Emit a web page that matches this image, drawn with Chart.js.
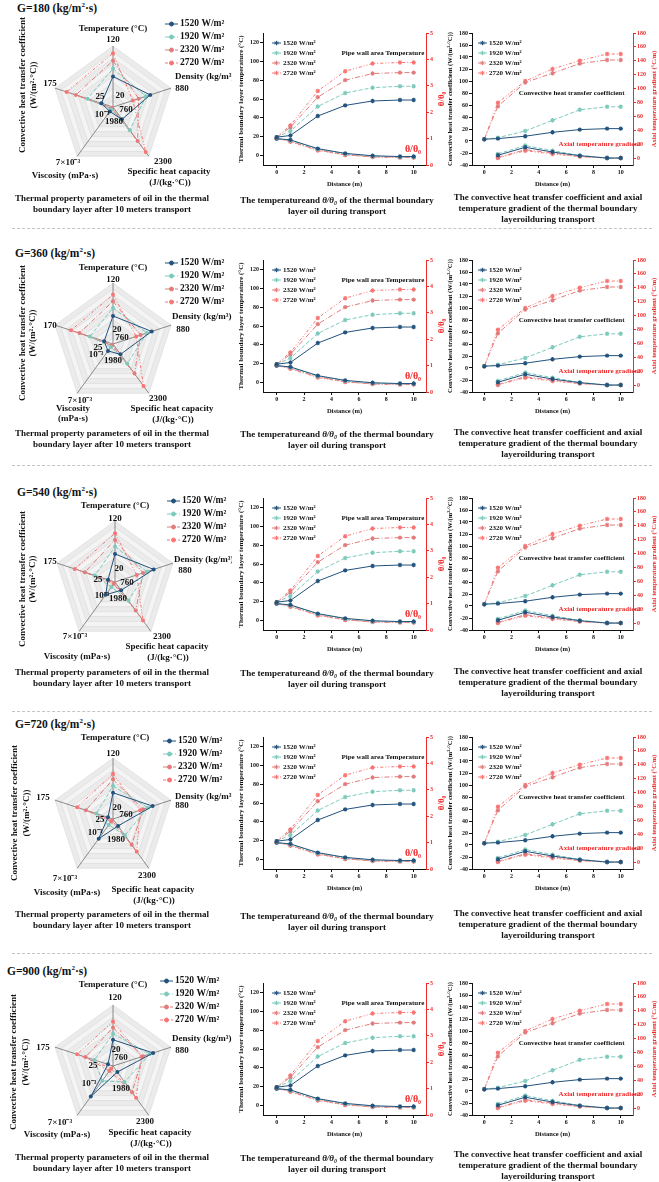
<!DOCTYPE html>
<html>
<head>
<meta charset="utf-8">
<title>Thermal boundary layer oil</title>
<script src="https://cdn.jsdelivr.net/npm/chart.js@4.4.1/dist/chart.umd.min.js"></script>
<style>
  body { margin: 0; background: #fff; }
  #page { position: relative; width: 659px; height: 1182px; overflow: hidden;
          font-family: "Liberation Serif", "Times New Roman", serif; font-weight: bold; color: #111; }
  canvas { position: absolute; }
  .title { position: absolute; font-size: 11.5px; line-height: 12px; white-space: nowrap; }
  .title sup { font-size: 7px; line-height: 0; }
  .cap { position: absolute; font-size: 9px; line-height: 11px; text-align: center; white-space: nowrap; transform: translateX(-50%); }
  .sep { position: absolute; left: 12px; width: 640px; height: 0; border-top: 1px dashed #c4c4c4; }
</style>
</head>
<body>
<div id="page"></div>
<script>
// ---------- data ----------
var heatFlux = ['1520 W/m²', '1920 W/m²', '2320 W/m²', '2720 W/m²'];
var massFlux = [180, 360, 540, 720, 900];

// radar axes (clockwise from top)
var radarAxes = ['Temperature', 'Density', 'Specific heat capacity', 'Viscosity', 'Convective heat transfer coefficient'];
var radarMin = [20, 760, 1980, 0.001, 25];
var radarMax = [120, 880, 2300, 0.007, 175];
var convMax = [175, 170, 175, 175, 175];

// one row per heat flux: temperature, density, specific heat, viscosity, convective coeff.
var radar180 = [[70, 837, 2060, 1.54e-3, 55], [83, 828, 2130, 1.30e-3, 91], [96, 813, 2200, 1.18e-3, 121], [108, 801, 2272, 1.12e-3, 145]];
var radar360 = [[66, 840, 2047, 1.84e-3, 47], [79, 830, 2108, 1.36e-3, 83], [90, 817, 2172, 1.18e-3, 109], [101, 808, 2252, 1.12e-3, 130]];
var radar540 = [[66, 840, 2034, 2.56e-3, 43], [78, 826, 2100, 1.60e-3, 77], [89, 818, 2165, 1.24e-3, 103], [100, 805, 2230, 1.12e-3, 129]];
var radar720 = [[63, 842, 2025, 3.40e-3, 38], [74, 832, 2086, 1.72e-3, 68], [85, 822, 2147, 1.30e-3, 95], [94, 816, 2191, 1.18e-3, 118]];
var radar900 = [[63, 843, 2019, 4.72e-3, 38], [73, 836, 2084, 2.80e-3, 73], [83, 822, 2150, 1.60e-3, 96], [93, 819, 2186, 1.30e-3, 118]];
var radarRows = [radar180, radar360, radar540, radar720, radar900];

var distance = [0, 1, 3, 5, 7, 9, 10];
var distanceGrad = [1, 3, 5, 7, 9, 10];

var wallTemp = [
  [19.5, 21.3, 41.9, 53.2, 57.9, 58.9, 58.9],
  [19.5, 26, 52, 66.4, 72, 73.5, 73.5],
  [19.5, 30, 62, 80, 87, 88, 88],
  [19.5, 32, 68.5, 89.5, 97.6, 98.7, 98.7]
];
var thetaRatio = [
  [1, 0.95, 0.62, 0.44, 0.35, 0.32, 0.32],
  [1, 0.93, 0.60, 0.42, 0.33, 0.31, 0.31],
  [1, 0.90, 0.57, 0.39, 0.31, 0.29, 0.29],
  [1, 0.88, 0.55, 0.38, 0.30, 0.28, 0.28]
];
var convCoef = [
  [3, 4, 8, 14.5, 19, 20.6, 20.6],
  [3, 5.5, 16.7, 34.5, 52, 57, 57],
  [3, 58, 97.5, 113, 129, 135, 135],
  [3, 64, 100, 120, 134, 145, 145]
];
var axialGrad = [
  [4, 15.5, 8.7, 3.4, 0, 0],
  [6, 18, 10.6, 3.9, 0, 0],
  [1, 12, 7.2, 2.4, 0, 0],
  [0, 10.6, 5.8, 2, 0, 0]
];

var distTicks = [0, 2, 4, 6, 8, 10];
var tempTicks = [0, 20, 40, 60, 80, 100, 120];
var thetaTicks = [0, 1, 2, 3, 4, 5];
var convTicks = [-40, -20, 0, 20, 40, 60, 80, 100, 120, 140, 160, 180];
var gradTicks = [0, 20, 40, 60, 80, 100, 120, 140, 160, 180];

// ---------- styles / layout ----------
var FONT = '"Liberation Serif", "Times New Roman", serif';
var INK = '#111';
var RED = '#ee2b2b';
var seriesColors = ['#23527c', '#7dcabd', '#e27c7c', '#fb7474'];
var seriesDash = [[], [4, 2], [5, 2, 1, 2], [3, 2, 1, 2, 1, 2]];

Chart.defaults.font.family = FONT;
Chart.defaults.font.weight = 'bold';
Chart.defaults.color = INK;

var rows = [
  { titleX: 17, titleY: 8, cx: 113, cy: 107, plotTop: 33, capR: 198, capM: 200, capC: 197, leg: [165, 24],
    temp: [0, -78], n120: [0, -67], dens: [62, -30], n880: [69, -18], n2300: [50, 55], spec: [56, 65],
    n7: [-45, 56], visc: [['Viscosity (mPa·s)', -48, 69]], nConv: [-63, -23], vert: [-90, -79, -22],
    mins: [[7, -11], [13, 3], [1, 15], [-11, 8], [-13, -10]] },
  { titleX: 15, titleY: 253, cx: 113, cy: 344, plotTop: 260, capR: 433, capM: 434, capC: 432, leg: [165, 263],
    temp: [0, -76], n120: [0, -64], dens: [59, -27], n880: [70, -14], n2300: [45, 55], spec: [59, 65],
    n7: [-33, 57], visc: [['Viscosity', -40, 65], ['(mPa·s)', -40, 75]], nConv: [-63, -18], vert: [-90, -80, -11],
    mins: [[4, -14], [9, -6], [0, 17], [-17, 11], [-15, 4]] },
  { titleX: 17, titleY: 492, cx: 115, cy: 582, plotTop: 498, capR: 672, capM: 673, capC: 671, leg: [167, 501],
    temp: [0, -76], n120: [0, -63], dens: [59, -22], n880: [70, -11], n2300: [47, 55], spec: [52, 65],
    n7: [-40, 55], visc: [['Viscosity (mPa·s)', -38, 75]], nConv: [-65, -20], vert: [-92, -82, -3],
    mins: [[4, -13], [12, 1], [3, 17], [-13, 14], [-17, -2]] },
  { titleX: 15, titleY: 724, cx: 113, cy: 819, plotTop: 737, capR: 914, capM: 916, capC: 913, leg: [163, 741],
    temp: [2, -81], n120: [0, -65], dens: [62, -22], n880: [69, -13], n2300: [34, 57], spec: [40, 71],
    n7: [-48, 60], visc: [['Viscosity (mPa·s)', -46, 74]], nConv: [-70, -21], vert: [-98, -86, -6],
    mins: [[4, -11], [13, -4], [3, 21], [-18, 14], [-13, 1]] },
  { titleX: 7, titleY: 971, cx: 113, cy: 1066, plotTop: 983, capR: 1157, capM: 1158, capC: 1154, leg: [160, 981],
    temp: [0, -81], n120: [2, -68], dens: [59, -27], n880: [69, -15], n2300: [32, 56], spec: [37, 67],
    n7: [-53, 57], visc: [['Viscosity (mPa·s)', -56, 69]], nConv: [-70, -18], vert: [-99, -87, -4],
    mins: [[3, -16], [8, -8], [8, 23], [-24, 18], [-20, 0]] }
];
var separators = [228, 465, 711, 953];

var page = document.getElementById('page');

function addCanvas(left, top, w, h) {
  var c = document.createElement('canvas');
  c.width = w; c.height = h;
  c.style.left = left + 'px'; c.style.top = top + 'px';
  c.style.width = w + 'px'; c.style.height = h + 'px';
  page.appendChild(c);
  return c;
}

function addHtml(cls, left, top, html) {
  var d = document.createElement('div');
  d.className = cls;
  d.style.left = left + 'px'; d.style.top = top + 'px';
  d.innerHTML = html;
  page.appendChild(d);
}

function fmtAxis(v, k) {
  if (k === 3) {
    var m = Math.round(v * 1000);
    return m === 1 ? '10⁻³' : m + '×10⁻³';
  }
  return String(v);
}

function drawLegend(ctx, datasets, x, y, gap, len, size) {
  ctx.save();
  ctx.font = 'bold ' + size + 'px ' + FONT;
  ctx.textBaseline = 'middle';
  ctx.textAlign = 'left';
  for (var i = 0; i < 4; i++) {
    var ds = datasets[i], yy = y + i * gap;
    ctx.strokeStyle = ds.borderColor;
    ctx.fillStyle = ds.borderColor;
    ctx.lineWidth = 1;
    ctx.setLineDash(ds.borderDash);
    ctx.beginPath(); ctx.moveTo(x, yy); ctx.lineTo(x + len, yy); ctx.stroke();
    ctx.setLineDash([]);
    Chart.helpers.drawPoint(ctx, { pointStyle: ds.pointStyle || 'circle', radius: ds.pointRadius, borderWidth: 1, rotation: 0 }, x + len / 2, yy);
    ctx.fillStyle = INK;
    ctx.fillText(ds.label, x + len + 2, yy);
  }
  ctx.restore();
}

// ---------- radar ----------
function radarPlugin(row, max) {
  return {
    id: 'radarDeco',
    beforeDraw: function (chart) {
      var s = chart.scales.r, ctx = chart.ctx;
      ctx.save();
      for (var k = 10; k >= 1; k--) {
        ctx.beginPath();
        for (var i = 0; i < 5; i++) {
          var p = s.getPointPositionForValue(i, k / 10);
          if (i) ctx.lineTo(p.x, p.y); else ctx.moveTo(p.x, p.y);
        }
        ctx.closePath();
        ctx.fillStyle = k % 2 ? '#f4f4f4' : '#ebebeb';
        ctx.fill();
      }
      ctx.restore();
    },
    afterDraw: function (chart) {
      var s = chart.scales.r, ctx = chart.ctx;
      var cx = s.xCenter, cy = s.yCenter;
      var items = [
        ['Temperature (°C)', row.temp],
        [fmtAxis(max[0], 0), row.n120],
        ['Density (kg/m³)', row.dens, 'left'],
        [fmtAxis(max[1], 1), row.n880],
        [fmtAxis(max[2], 2), row.n2300],
        ['Specific heat capacity', row.spec],
        ['(J/(kg·°C))', [row.spec[0] + 1, row.spec[1] + 11]],
        [fmtAxis(max[3], 3), row.n7],
        [fmtAxis(max[4], 4), row.nConv]
      ];
      row.visc.forEach(function (v) { items.push([v[0], [v[1], v[2]]]); });
      row.mins.forEach(function (m, k) { items.push([fmtAxis(radarMin[k], k), m]); });
      ctx.save();
      ctx.fillStyle = INK;
      ctx.font = 'bold 9px ' + FONT;
      ctx.textBaseline = 'middle';
      items.forEach(function (it) {
        ctx.textAlign = it[2] || 'center';
        ctx.fillText(it[0], cx + it[1][0], cy + it[1][1]);
      });
      [['Convective heat transfer coefficient', row.vert[0]], ['(W/(m²·°C))', row.vert[1]]].forEach(function (t) {
        ctx.save();
        ctx.translate(cx + t[1], cy + row.vert[2]);
        ctx.rotate(-Math.PI / 2);
        ctx.textAlign = 'center';
        ctx.fillText(t[0], 0, 0);
        ctx.restore();
      });
      ctx.restore();
      drawLegend(ctx, chart.data.datasets, row.leg[0], row.leg[1] - (row.cy - 100), 13, 13, 9.5);
    }
  };
}

function makeRadar(row, idx) {
  var W = 232, H = 200, R = 61;
  var cv = addCanvas(0, row.cy - 100, W, H);
  var max = radarMax.slice();
  max[4] = convMax[idx];
  var datasets = radarRows[idx].map(function (vals, i) {
    return {
      label: heatFlux[i],
      data: vals.map(function (v, k) { return (v - radarMin[k]) / (max[k] - radarMin[k]); }),
      borderColor: seriesColors[i], backgroundColor: seriesColors[i],
      borderDash: seriesDash[i], borderWidth: 1, fill: false,
      pointRadius: 2, pointBackgroundColor: seriesColors[i], pointBorderColor: seriesColors[i], pointBorderWidth: 0
    };
  });
  new Chart(cv, {
    type: 'radar',
    data: { labels: radarAxes, datasets: datasets },
    options: {
      responsive: false, animation: false,
      layout: { padding: { left: row.cx - R, right: W - row.cx - R, top: 100 - R, bottom: H - 100 - R }, autoPadding: false },
      plugins: { legend: { display: false }, tooltip: { enabled: false } },
      scales: {
        r: {
          min: 0, max: 1,
          ticks: { display: false, stepSize: 0.1 },
          grid: { circular: false, color: '#d4d4d4', lineWidth: 0.5 },
          angleLines: { color: '#707070', lineWidth: 0.8 },
          pointLabels: { display: false }
        }
      }
    },
    plugins: [radarPlugin(row, max)]
  });
}

// ---------- line charts ----------
function series(i, xs, ys, axis) {
  return {
    label: heatFlux[i],
    data: xs.map(function (x, j) { return { x: x, y: ys[j] }; }),
    yAxisID: axis,
    borderColor: seriesColors[i], backgroundColor: seriesColors[i],
    borderDash: seriesDash[i], borderWidth: 1, tension: 0,
    pointStyle: 'star', pointRadius: 2.2, pointBorderWidth: 1.1,
    pointBackgroundColor: seriesColors[i], pointBorderColor: seriesColors[i]
  };
}

function setTicks(arr) {
  return function (s) { s.ticks = arr.map(function (v) { return { value: v }; }); };
}

function linePlugin(cfg) {
  return {
    id: 'lineDeco',
    afterDraw: function (chart) {
      var ctx = chart.ctx, a = chart.chartArea;
      drawLegend(ctx, chart.data.datasets, a.left + cfg.leg[0], a.top + cfg.leg[1], 10, 9, 7);
      ctx.save();
      ctx.textBaseline = 'middle';
      ctx.textAlign = 'center';
      cfg.notes.forEach(function (n) {
        ctx.font = 'bold ' + n.size + 'px ' + FONT;
        ctx.fillStyle = n.color;
        ctx.fillText(n.text, chart.scales.x.getPixelForValue(n.x), chart.scales[n.axis].getPixelForValue(n.y));
      });
      // right axis title, reading bottom to top
      ctx.font = 'bold ' + cfg.rTitleSize + 'px ' + FONT;
      ctx.fillStyle = RED;
      ctx.translate(chart.width - cfg.rTitleOff, (a.top + a.bottom) / 2);
      ctx.rotate(-Math.PI / 2);
      ctx.fillText(cfg.rTitle, 0, 0);
      ctx.restore();
    }
  };
}

function makeLine(left, top, width, cfg) {
  var cv = addCanvas(left, top, width, 165);
  var ds = [];
  cfg.upper.forEach(function (vals, i) { ds.push(series(i, distance, vals, 'y')); });
  cfg.lower.forEach(function (vals, i) { ds.push(series(i, cfg.lowerX, vals, 'y1')); });
  var tickFont = { size: 6, weight: 'bold' };
  new Chart(cv, {
    type: 'line',
    data: { datasets: ds },
    options: {
      responsive: false, animation: false,
      layout: { padding: { top: 10, left: 0, right: 0, bottom: 0 }, autoPadding: false },
      plugins: { legend: { display: false }, tooltip: { enabled: false } },
      scales: {
        x: {
          type: 'linear', min: cfg.xMin, max: 10.9,
          afterBuildTicks: setTicks(distTicks),
          afterFit: function (s) { s.height = 23; },
          grid: { display: true, drawOnChartArea: false, tickLength: 3, color: INK },
          border: { color: INK, width: 1 },
          ticks: { font: tickFont, padding: 1, color: INK, maxRotation: 0, autoSkip: false },
          title: { display: true, text: 'Distance (m)', font: { size: 6.5, weight: 'bold' }, padding: 0, color: INK }
        },
        y: {
          position: 'left', min: cfg.yMin, max: cfg.yMax,
          afterBuildTicks: setTicks(cfg.yTicks),
          afterFit: function (s) { s.width = cfg.yWidth; },
          grid: { display: true, drawOnChartArea: false, tickLength: 3, color: INK },
          border: { color: INK, width: 1 },
          ticks: { font: tickFont, padding: 1, color: INK, autoSkip: false },
          title: { display: true, text: cfg.yTitle, font: { size: cfg.yTitleSize, weight: 'bold' }, padding: { top: cfg.yTitlePad, bottom: 0 }, color: INK }
        },
        y1: {
          position: 'right', min: cfg.rMin, max: cfg.rMax,
          afterBuildTicks: setTicks(cfg.rTicks),
          afterFit: function (s) { s.width = cfg.rWidth; },
          grid: { display: true, drawOnChartArea: false, tickLength: 3, color: RED },
          border: { color: RED, width: 1 },
          ticks: { font: tickFont, padding: 1, color: RED, autoSkip: false }
        }
      }
    },
    plugins: [linePlugin(cfg)]
  });
}

// ---------- build page ----------
rows.forEach(function (row, idx) {
  addHtml('title', row.titleX, row.titleY - 6, 'G=' + massFlux[idx] + ' (kg/m<sup>2</sup>·s)');
  makeRadar(row, idx);

  makeLine(232, row.plotTop - 10, 215, {
    upper: wallTemp, lower: thetaRatio, lowerX: distance, xMin: -1,
    yMin: -10, yMax: 130, yTicks: tempTicks, yWidth: 31,
    yTitle: 'Thermal boundary layer temperature (°C)', yTitleSize: 7, yTitlePad: 5,
    rMin: 0, rMax: 5, rTicks: thetaTicks, rWidth: 21,
    rTitle: 'θ/θ₀', rTitleSize: 9, rTitleOff: 5.5,
    leg: [9, 10],
    notes: [
      { text: 'Pipe wall area Temperature', x: 7.75, y: 109, axis: 'y', color: INK, size: 7 },
      { text: 'θ/θ₀', x: 9.95, y: 7, axis: 'y', color: RED, size: 10 }
    ]
  });

  makeLine(443, row.plotTop - 10, 216, {
    upper: convCoef, lower: axialGrad, lowerX: distanceGrad, xMin: -0.9,
    yMin: -40, yMax: 180, yTicks: convTicks, yWidth: 29,
    yTitle: 'Convective heat transfer coefficient (W/(m²·°C))', yTitleSize: 6.5, yTitlePad: 3,
    rMin: -10, rMax: 180, rTicks: gradTicks, rWidth: 26,
    rTitle: 'Axial temperature gradient (°C/m)', rTitleSize: 6.5, rTitleOff: 4.5,
    leg: [6, 10],
    notes: [
      { text: 'Convective heat transfer coefficient', x: 6.4, y: 80, axis: 'y', color: INK, size: 7 },
      { text: 'Axial temperature gradient', x: 8.45, y: -5.6, axis: 'y', color: RED, size: 7 }
    ]
  });

  addHtml('cap', 112, row.capR - 5.5, 'Thermal property parameters of oil in the thermal<br>boundary layer after 10 meters transport');
  addHtml('cap', 337, row.capM - 5.5, 'The temperatureand <i>θ/θ₀</i> of the thermal boundary<br>layer oil during transport');
  addHtml('cap', 548, row.capC - 5.5, 'The convective heat transfer coefficient and axial<br>temperature gradient of the thermal boundary<br>layeroilduring transport');
});

separators.forEach(function (y) { addHtml('sep', 12, y, ''); });
</script>
</body>
</html>
